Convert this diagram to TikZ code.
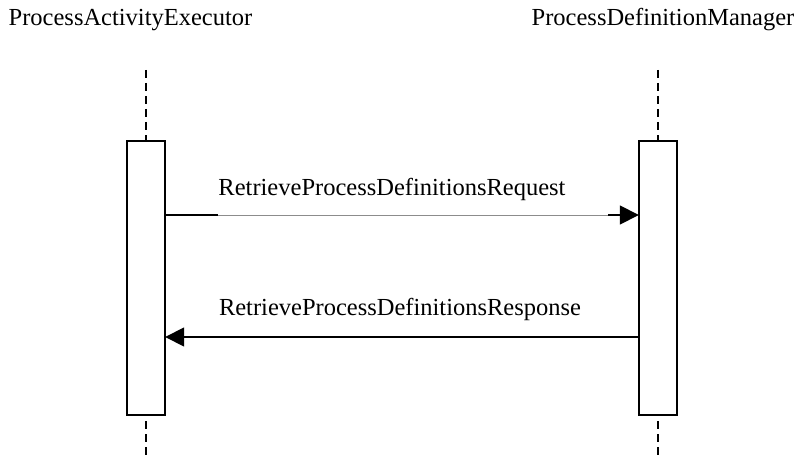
\documentclass[tikz,border=0pt]{standalone}
\usepackage{fontspec}
\setmainfont{Liberation Serif}
\usetikzlibrary{arrows.meta}
\begin{document}
\begin{tikzpicture}[x=1pt,y=-1pt,
  lbl/.style={font=\fontsize{24.5}{28}\selectfont, inner sep=0pt, anchor=base},
  act/.style={draw=black, line width=1.6pt, fill=white},
  life/.style={draw=black, line width=1.4pt, dash pattern=on 8pt off 5pt},
  thick stub/.style={line width=1.6pt},
  msgthin/.style={draw=black!45, line width=0.8pt},
  msgline/.style={draw=black, line width=1.2pt},
  tip/.style={-{Triangle[length=19pt,width=19pt]}, line width=1.6pt}]
\useasboundingbox (0,0) rectangle (796,460);
% participant labels
\node[lbl] (pa) at (130.5,26) {ProcessActivityExecutor};
\node[lbl] (pd) at (663,26) {ProcessDefinitionManager};
% lifelines
\coordinate (la1) at (146,70);
\coordinate (la2) at (146,460);
\coordinate (lb1) at (658,70);
\coordinate (lb2) at (658,460);
\draw[life] (la1) -- (la2);
\draw[life] (lb1) -- (lb2);
% activations
\draw[act] (127,141) rectangle (165,415);
\draw[act] (639,141) rectangle (677,415);
\node[inner sep=0pt, minimum width=38pt, minimum height=274pt] (ba) at (146,278) {};
\node[inner sep=0pt, minimum width=38pt, minimum height=274pt] (bb) at (658,278) {};
% message 1
\coordinate (m1a) at (ba.east |- 0,215);
\coordinate (m1b) at (bb.west |- 0,215);
\coordinate (m1s) at (218,215);
\coordinate (m1t) at (608,215);
\draw[msgthin] (m1s) -- (m1t);
\draw[thick stub] (m1a) -- (m1s);
\draw[tip] (m1t) -- (m1b);
\node[lbl] (t1) at (392,195) {RetrieveProcessDefinitionsRequest};
% message 2
\coordinate (m2a) at (bb.west |- 0,337);
\coordinate (m2b) at (ba.east |- 0,337);
\coordinate (m2s) at (607,337);
\coordinate (m2t) at (218,337);
\draw[msgline] (m2s) -- (m2t);
\draw[thick stub] (m2a) -- (m2s);
\draw[tip] (m2t) -- (m2b);
\node[lbl] (t2) at (400,315) {RetrieveProcessDefinitionsResponse};
\end{tikzpicture}
\end{document}
